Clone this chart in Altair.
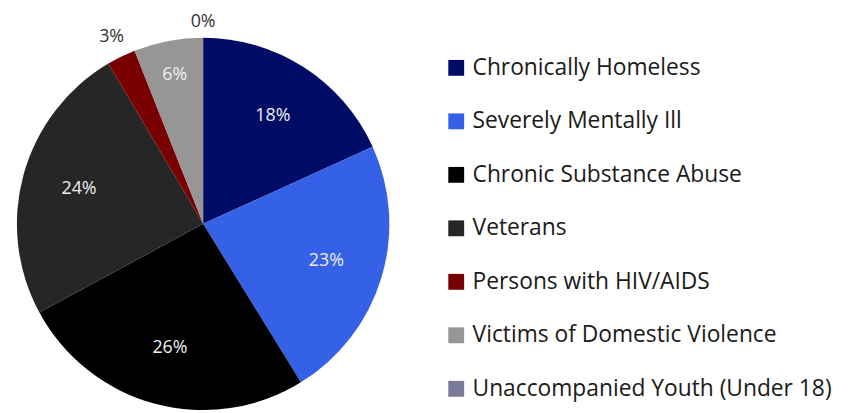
import altair as alt
import pandas as pd

categories = [
    "Chronically Homeless",
    "Severely Mentally Ill",
    "Chronic Substance Abuse",
    "Veterans",
    "Persons with HIV/AIDS",
    "Victims of Domestic Violence",
    "Unaccompanied Youth (Under 18)",
]
values = [18.2, 23.0, 25.9, 24.4, 2.5, 6.0, 0.0]
labels = ["18%", "23%", "26%", "24%", "3%", "6%", "0%"]
colors = ["#000c66", "#3461e6", "#000000", "#262626", "#780000", "#969696", "#7b7b99"]

df = pd.DataFrame({"category": categories, "value": values, "label": labels})

FONT = "Open Sans"

base = alt.Chart(df).transform_window(
    idx="row_number()"
).transform_joinaggregate(
    total="sum(value)"
).transform_window(
    cum="sum(value)", sort=[alt.SortField("idx")], frame=[None, 0]
).transform_calculate(
    t_end="datum.cum / datum.total",
    t_start="(datum.cum - datum.value) / datum.total",
    t_mid="(datum.cum - datum.value / 2) / datum.total",
    lr="datum.value < 1 ? 204 : (datum.value < 5 ? 210 : (datum.value < 10 ? 153 : 130))",
    inside="datum.value >= 5",
).encode(
    x=alt.value(197),
    y=alt.value(216),
)

theta_scale = alt.Scale(domain=[0, 1], range=[0, 6.283185307179586])

pie = base.mark_arc(radius=188, stroke=None).encode(
    theta=alt.Theta("t_start:Q", scale=theta_scale, stack=None),
    theta2="t_end:Q",
    color=alt.Color(
        "category:N",
        scale=alt.Scale(domain=categories, range=colors),
        sort=categories,
        legend=alt.Legend(
            title=None,
            orient="none",
            legendX=441,
            legendY=47,
            symbolType="square",
            symbolSize=256,
            symbolStrokeWidth=0,
            labelFont=FONT,
            labelFontSize=23,
            labelColor="#1a1a1a",
            labelLimit=600,
            rowPadding=30,
            labelOffset=5,
        ),
    ),
)

text = base.mark_text(font=FONT, fontSize=18).encode(
    theta=alt.Theta("t_mid:Q", scale=theta_scale, stack=None),
    text="label:N",
    radius=alt.Radius("lr:Q", scale=None),
    color=alt.condition("datum.inside", alt.value("#eeeeee"), alt.value("#333333")),
)

chart = alt.layer(pie, text).properties(
    width=846, height=405, autosize="none", padding=0
).configure_view(stroke=None).resolve_scale(color="independent")

chart.save("out.html", embed_options={"renderer": "svg", "actions": False})
